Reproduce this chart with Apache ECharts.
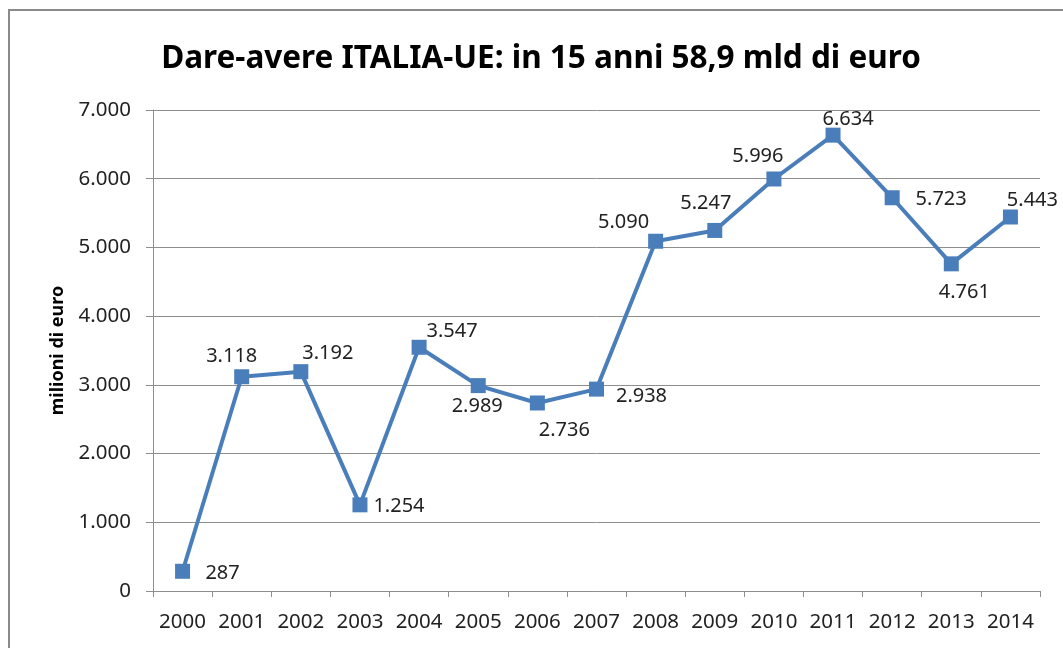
<html>
<head>
    <meta charset="utf-8">
    <script src="https://cdnjs.cloudflare.com/ajax/libs/echarts/6.0.0/echarts.min.js"></script>
    <style>
        body { margin: 0; background: #fff; }
        #graph { width: 1063px; height: 648px; }
    </style>
</head>
<body>
    <div id="graph"></div>
    <script>
        var anni = ['2000', '2001', '2002', '2003', '2004', '2005', '2006', '2007',
            '2008', '2009', '2010', '2011', '2012', '2013', '2014'];
        var saldo = [287, 3118, 3192, 1254, 3547, 2989, 2736, 2938,
            5090, 5247, 5996, 6634, 5723, 4761, 5443];
        // spostamento delle etichette rispetto al punto (px)
        var spostamenti = [[40, 2], [-10, -20], [27, -18], [39, 1], [33, -16], [-1, 21], [27, 27], [45, 7],
            [-32, -19], [-9, -27], [-16, -23], [15, -16], [49, 2], [13, 28], [22, -17]];

        var font = 'Noto Sans';
        var grigio = '#8e8e8e';

        function formatta(v) {
            return String(v).replace(/\B(?=(\d{3})+(?!\d))/g, '.');
        }

        var punti = saldo.map(function (v, i) {
            return {
                value: v,
                label: { offset: spostamenti[i] }
            };
        });

        var myChart = echarts.init(document.getElementById('graph'));
        var option = {
            animation: false,
            title: {
                text: 'Dare-avere ITALIA-UE: in 15 anni 58,9 mld di euro',
                left: 536,
                top: 38,
                textAlign: 'center',
                textStyle: { fontFamily: font, fontSize: 31.5, fontWeight: 'bold', color: '#000' }
            },
            graphic: [{
                type: 'rect',
                shape: { x: 9, y: 10, width: 1070, height: 660 },
                style: { fill: 'none', stroke: '#8a8a8a', lineWidth: 2 }
            }],
            grid: { left: 153, right: 23, top: 110, bottom: 57 },
            xAxis: {
                type: 'category',
                data: anni,
                boundaryGap: true,
                axisLine: { lineStyle: { color: grigio, width: 1 } },
                axisTick: { show: true, length: 6, interval: 0, lineStyle: { color: grigio } },
                axisLabel: { margin: 21, fontFamily: font, fontSize: 20.5, color: '#222', interval: 0 }
            },
            yAxis: {
                type: 'value',
                min: 0,
                max: 7000,
                interval: 1000,
                name: 'milioni di euro',
                nameLocation: 'middle',
                nameGap: 86,
                nameTextStyle: { fontFamily: font, fontSize: 18, fontWeight: 'bold', color: '#000' },
                axisLine: { show: true, lineStyle: { color: grigio, width: 1 } },
                axisTick: { show: true, length: 7, lineStyle: { color: grigio } },
                splitLine: { lineStyle: { color: grigio, width: 1 } },
                axisLabel: {
                    margin: 22, fontFamily: font, fontSize: 20.5, color: '#222',
                    formatter: formatta
                }
            },
            series: [{
                type: 'line',
                data: punti,
                symbol: 'rect',
                symbolSize: 15,
                lineStyle: { color: '#4a7ebb', width: 4 },
                itemStyle: { color: '#4a7ebb' },
                label: {
                    show: true,
                    position: 'inside',
                    fontFamily: font,
                    fontSize: 20,
                    color: '#222',
                    formatter: function (p) { return formatta(p.value); }
                }
            }]
        };
        myChart.setOption(option);
    </script>
</body>
</html>
